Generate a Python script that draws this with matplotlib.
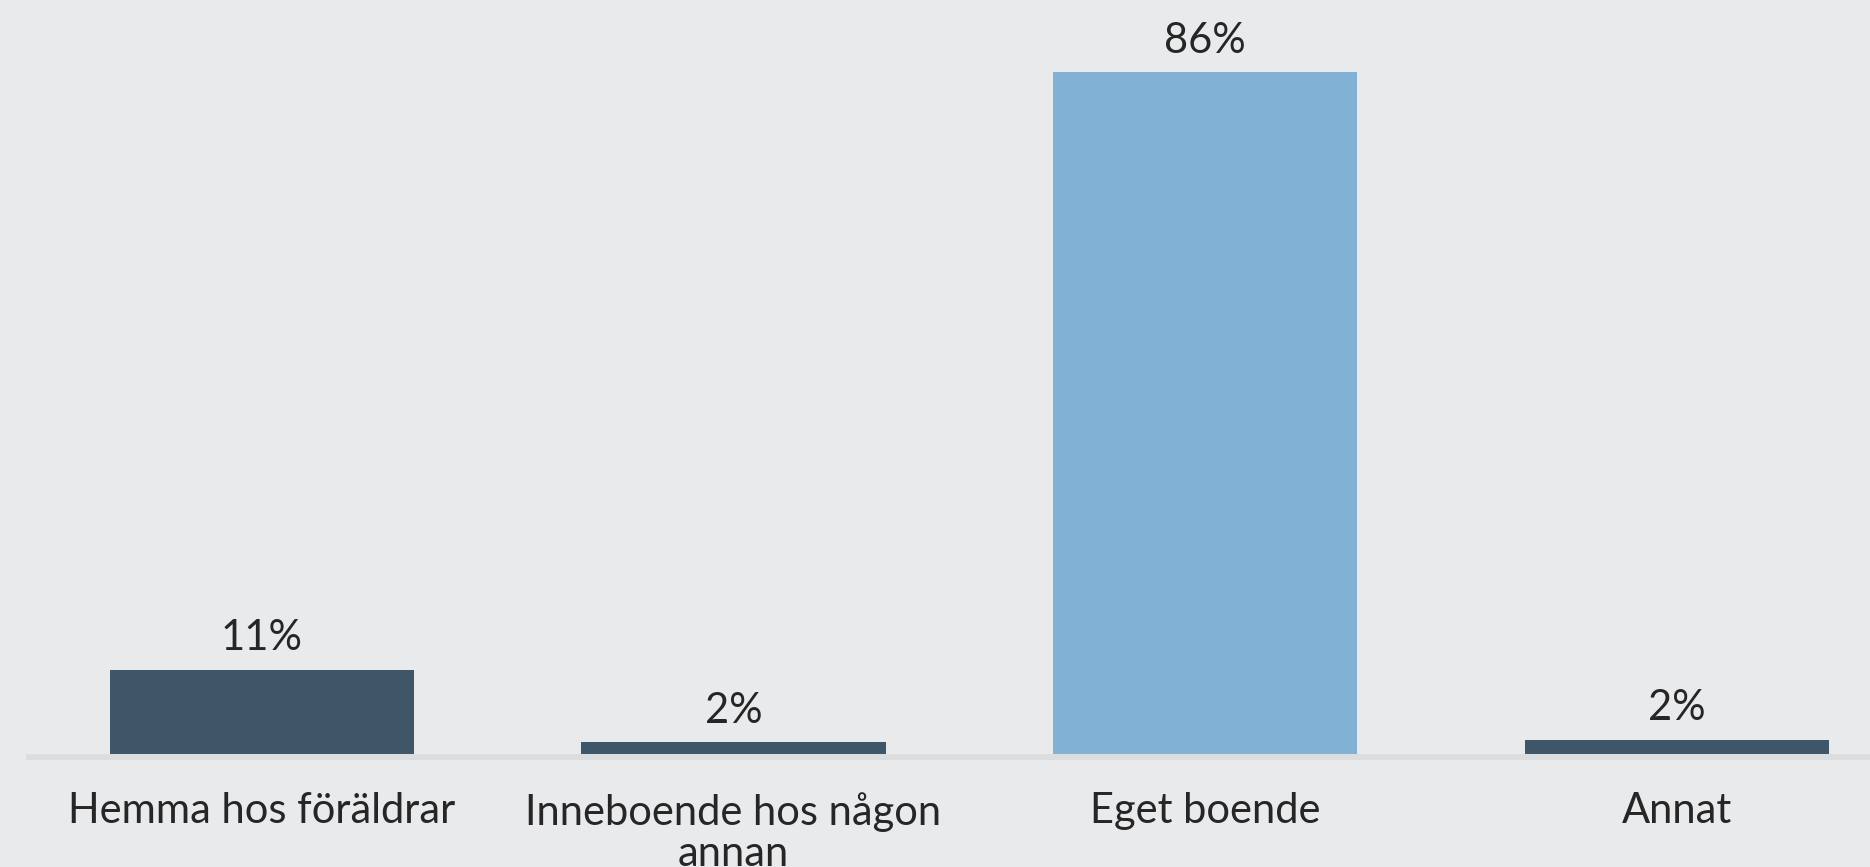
import matplotlib.pyplot as plt

# Datos
categorias = ["Hemma hos föräldrar", "Inneboende hos någon\nannan", "Eget boende", "Annat"]
valores = [10.6, 1.5, 86.0, 1.8]
etiquetas = ["11%", "2%", "86%", "2%"]
colores = ["#3e5667", "#3e5667", "#82b1d6", "#3e5667"]

FONDO = "#e9eaec"
TEXTO = "#262626"

plt.rcParams['font.family'] = ['Lato', 'DejaVu Sans']

W, H = 1870, 867
fig = plt.figure(figsize=(W / 100, H / 100), dpi=100, facecolor=FONDO)

# ejes en píxeles: base en y=754, línea gris de 6 px debajo
px_por_pct = 682 / 86
izq, der = 26, 1870
base, fondo_linea = 754, 760
ax = fig.add_axes([izq / W, (H - fondo_linea) / H, (der - izq) / W, fondo_linea / H])
ax.set_facecolor(FONDO)

x = list(range(len(categorias)))
ax.bar(x, valores, width=0.645, color=colores, zorder=3)

ax.set_xlim(-0.5, 3.41)
ax.set_ylim(-(fondo_linea - base) / px_por_pct, base / px_por_pct)
ax.axhspan(-(fondo_linea - base) / px_por_pct, 0, color="#dcdddf", zorder=2, lw=0)

for xi, v, t in zip(x, valores, etiquetas):
    ax.annotate(t, (xi, v), xytext=(0, 14), textcoords="offset points",
                ha="center", va="baseline", fontsize=30, color=TEXTO)

ax.set_xticks(x)
ax.set_xticklabels(categorias, fontsize=30, color=TEXTO, linespacing=1.1)
ax.tick_params(axis="x", length=0, pad=23)
ax.set_yticks([])
for s in ax.spines.values():
    s.set_visible(False)

fig.savefig("out.png", dpi=100, facecolor=FONDO)
